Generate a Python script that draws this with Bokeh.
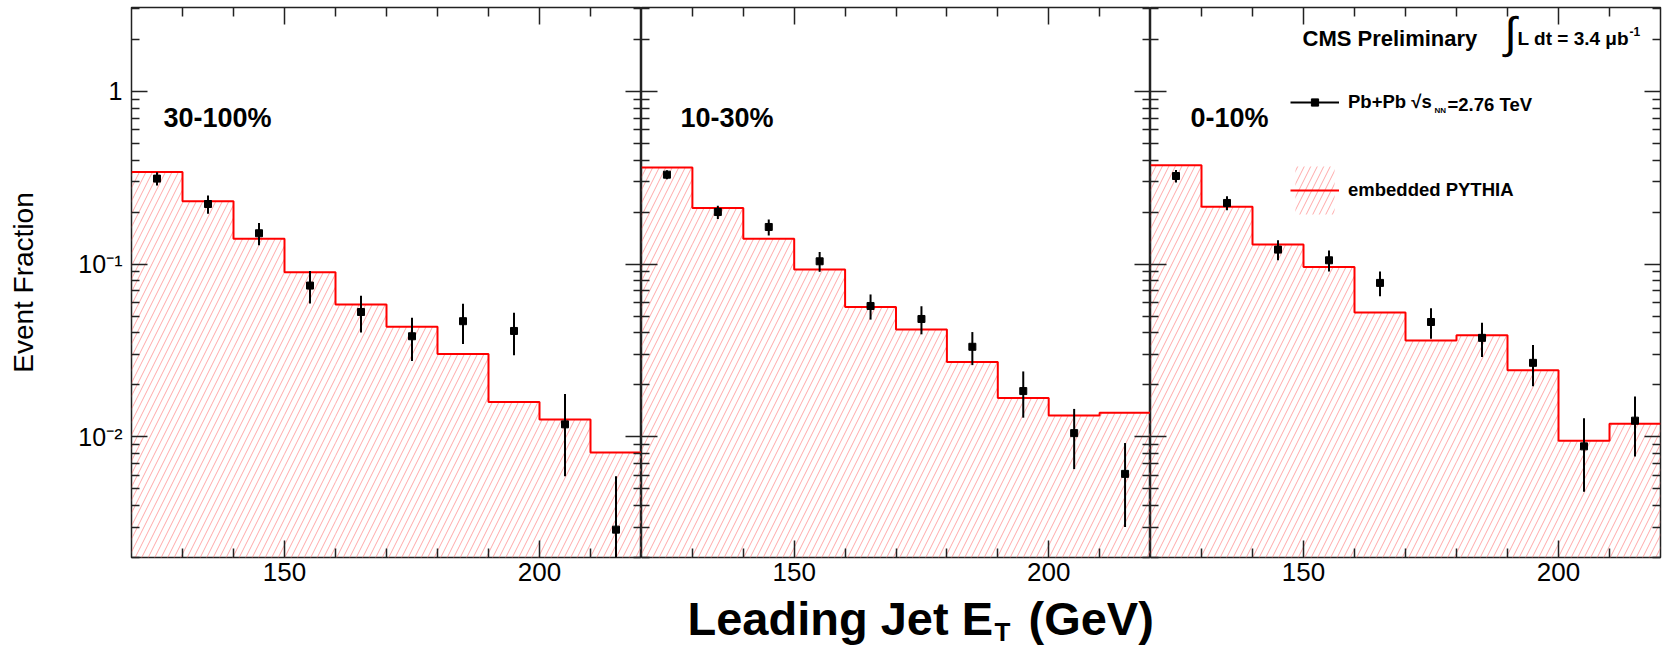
import numpy as np
from bokeh.plotting import figure
from bokeh.layouts import row, column
from bokeh.models import FixedTicker, LinearAxis, LogAxis, Label, Legend, LegendItem
from bokeh.embed import file_html
from bokeh.resources import INLINE

# ---- data -------------------------------------------------------------
et_edges = [120, 130, 140, 150, 160, 170, 180, 190, 200, 210, 220]
centrality = ["30-100%", "10-30%", "0-10%"]

# embedded PYTHIA, event fraction per 10 GeV bin
pythia_30_100 = [0.341, 0.231, 0.140, 0.0896, 0.0583, 0.0433, 0.0302, 0.0159, 0.0126, 0.0081]
pythia_10_30 = [0.362, 0.211, 0.140, 0.0929, 0.0565, 0.0418, 0.0271, 0.0168, 0.0133, 0.0138]
pythia_0_10 = [0.373, 0.215, 0.130, 0.0963, 0.0524, 0.0361, 0.0387, 0.0243, 0.0095, 0.0119]

# Pb+Pb data, event fraction and statistical error
data_30_100 = [0.3125, 0.2228, 0.1508, 0.0751, 0.0528, 0.0382, 0.0467, 0.0410, 0.0118, 0.0029]
err_30_100 = [0.0275, 0.0270, 0.0223, 0.0160, 0.0127, 0.0107, 0.0122, 0.0113, 0.0059, 0.0030]
data_10_30 = [0.3294, 0.2002, 0.1640, 0.1038, 0.0572, 0.0481, 0.0332, 0.0184, 0.0105, 0.0061]
err_10_30 = [0.0200, 0.0177, 0.0174, 0.0136, 0.0095, 0.0089, 0.0072, 0.0055, 0.0040, 0.0031]
data_0_10 = [0.3236, 0.2259, 0.1213, 0.1052, 0.0778, 0.0462, 0.0374, 0.0268, 0.0088, 0.0124]
err_0_10 = [0.0270, 0.0210, 0.0162, 0.0146, 0.0127, 0.0093, 0.0084, 0.0072, 0.0040, 0.0047]

x_major_ticks = [150, 200]
x_minor_ticks = [130, 140, 160, 170, 180, 190, 210]
y_major_ticks = [0.01, 0.1, 1]
y_tick_labels = ["10\u207b\u00b2", "10\u207b\u00b9", "1"]
y_minor_ticks = [0.002, 0.003, 0.004, 0.005, 0.006, 0.007, 0.008, 0.009,
                 0.02, 0.03, 0.04, 0.05, 0.06, 0.07, 0.08, 0.09,
                 0.2, 0.3, 0.4, 0.5, 0.6, 0.7, 0.8, 0.9, 2, 3]

# ---- style ------------------------------------------------------------
X_RANGE = (120, 220)
Y_RANGE = (0.002, 3.06)
FONT = "Liberation Sans"
FRAME = "#222222"
HIST_RED = "#ff0000"
HATCH_RED = "#ff7a7a"
HIST_FLOOR = 1e-5
PANEL_HEIGHT = 592
BORDER_TOP, BORDER_BOTTOM = 7, 35
TITLE_HEIGHT = 646 - PANEL_HEIGHT


def style_axis(ax, major, minor, major_len, minor_len, labels=False, size="26px", standoff=8):
    ax.ticker = FixedTicker(ticks=major, minor_ticks=minor)
    ax.major_tick_in = major_len
    ax.major_tick_out = 0
    ax.minor_tick_in = minor_len
    ax.minor_tick_out = 0
    ax.major_tick_line_color = FRAME
    ax.minor_tick_line_color = FRAME
    ax.major_tick_line_width = 1.5
    ax.minor_tick_line_width = 1.5
    ax.axis_line_color = None
    if labels:
        ax.major_label_text_font = FONT
        ax.major_label_text_font_size = size
        ax.major_label_text_color = "black"
        ax.major_label_standoff = standoff
    else:
        ax.major_label_overrides = {t: "" for t in major}
        ax.major_label_standoff = 0


def add_text(p, x, y, text, size, bold=True):
    # x, y: pixels from the bottom-left corner of the frame, y at the text's middle
    p.add_layout(Label(x=x, y=y, x_units="screen", y_units="screen", text=text,
                       text_font=FONT, text_font_style="bold" if bold else "normal",
                       text_font_size=size, text_color="black", text_baseline="middle"))


def make_panel(idx, width, border_left, border_right, pythia, values, errors, label_dx):
    p = figure(width=width, height=PANEL_HEIGHT, x_range=X_RANGE, y_range=Y_RANGE,
               y_axis_type="log", output_backend="svg", toolbar_location=None, title=None,
               min_border_left=border_left, min_border_right=border_right,
               min_border_top=BORDER_TOP, min_border_bottom=BORDER_BOTTOM)
    p.grid.visible = False
    p.outline_line_color = FRAME
    p.outline_line_width = 1.5

    edges = np.array(et_edges, dtype=float)
    centers = 0.5 * (edges[:-1] + edges[1:])
    vals = np.array(values)
    errs = np.array(errors)

    # hatched PYTHIA histogram with red outline
    hist = p.quad(left=edges[:-1], right=edges[1:], top=pythia,
                  bottom=np.full(len(pythia), HIST_FLOOR),
                  fill_color=None, line_color=None, hatch_pattern="/",
                  hatch_color=HATCH_RED, hatch_alpha=0.65, hatch_scale=13, hatch_weight=1)
    step = p.line(np.repeat(edges, 2)[1:-1], np.repeat(pythia, 2),
                  line_color=HIST_RED, line_width=2)

    # data points with vertical error bars
    bars = p.segment(x0=centers, y0=np.maximum(vals - errs, HIST_FLOOR),
                     x1=centers, y1=vals + errs, line_color="black", line_width=2)
    pts = p.scatter(centers, vals, marker="square", size=7,
                    fill_color="black", line_color="black")

    # axes: ticks on all four sides, pointing inwards
    style_axis(p.xaxis[0], x_major_ticks, x_minor_ticks, 17, 9, labels=True, size="26px", standoff=5)
    top = LinearAxis()
    style_axis(top, x_major_ticks, x_minor_ticks, 17, 9)
    p.add_layout(top, "above")
    style_axis(p.yaxis[0], y_major_ticks, y_minor_ticks, 16, 8, labels=(idx == 0), size="25px", standoff=9)
    right = LogAxis()
    style_axis(right, y_major_ticks, y_minor_ticks, 16, 8)
    p.add_layout(right, "right")
    if idx == 0:
        p.yaxis[0].major_label_overrides = dict(zip(y_major_ticks, y_tick_labels))
        p.yaxis[0].axis_label = "Event Fraction"
        p.yaxis[0].axis_label_text_font = FONT
        p.yaxis[0].axis_label_text_font_size = "28px"
        p.yaxis[0].axis_label_text_font_style = "normal"
        p.yaxis[0].axis_label_text_color = "black"
        p.yaxis[0].axis_label_standoff = 36

    add_text(p, label_dx, 440, centrality[idx], "27px")
    return p, hist, step, bars, pts


p1, *_ = make_panel(0, 641, 131, 0, pythia_30_100, data_30_100, err_30_100, 32)
p2, *_ = make_panel(1, 509, 0, 0, pythia_10_30, data_10_30, err_10_30, 39)
p3, hist3, step3, bars3, pts3 = make_panel(2, 514, 0, 4, pythia_0_10, data_0_10, err_0_10, 40)

# ---- header and legend in the right-hand panel ----------------------------
add_text(p3, 152, 519, "CMS Preliminary", "22px")
add_text(p3, 354, 525, "\u222b", "44px", bold=False)
add_text(p3, 367, 519, "L dt = 3.4 \u03bcb", "19px")
add_text(p3, 479, 526, "-1", "12px")

legend_style = dict(padding=0, margin=0, spacing=0, glyph_width=49, label_standoff=9,
                    border_line_color=None, background_fill_alpha=0,
                    label_text_font=FONT, label_text_font_style="bold",
                    label_text_font_size="18.5px", label_text_color="black")
data_legend = Legend(items=[LegendItem(label="Pb+Pb \u221as", renderers=[bars3, pts3])],
                     location=(140, 444), glyph_height=18, label_height=18, **legend_style)
mc_legend = Legend(items=[LegendItem(label="embedded PYTHIA", renderers=[hist3, step3])],
                   location=(140, 337), glyph_height=60, **legend_style)
p3.add_layout(data_legend)
p3.add_layout(mc_legend)
add_text(p3, 284, 447, "NN", "8px")
add_text(p3, 297, 453, "=2.76 TeV", "18.5px")

# ---- x-axis title strip, right-aligned under the middle panel ----------------
xtitle = figure(width=1664, height=TITLE_HEIGHT, x_range=(0, 1664), y_range=(0, TITLE_HEIGHT),
                output_backend="svg", toolbar_location=None, title=None, min_border=0,
                x_axis_type=None, y_axis_type=None, outline_line_color=None)
xtitle.grid.visible = False
add_text(xtitle, 687, 28, "Leading Jet E", "47px")
add_text(xtitle, 994, 15, "T", "26px")
add_text(xtitle, 1028, 28, "(GeV)", "47px")

layout = column(row(p1, p2, p3, spacing=0), xtitle, spacing=0)
open("out.html", "w").write(file_html(layout, INLINE))
